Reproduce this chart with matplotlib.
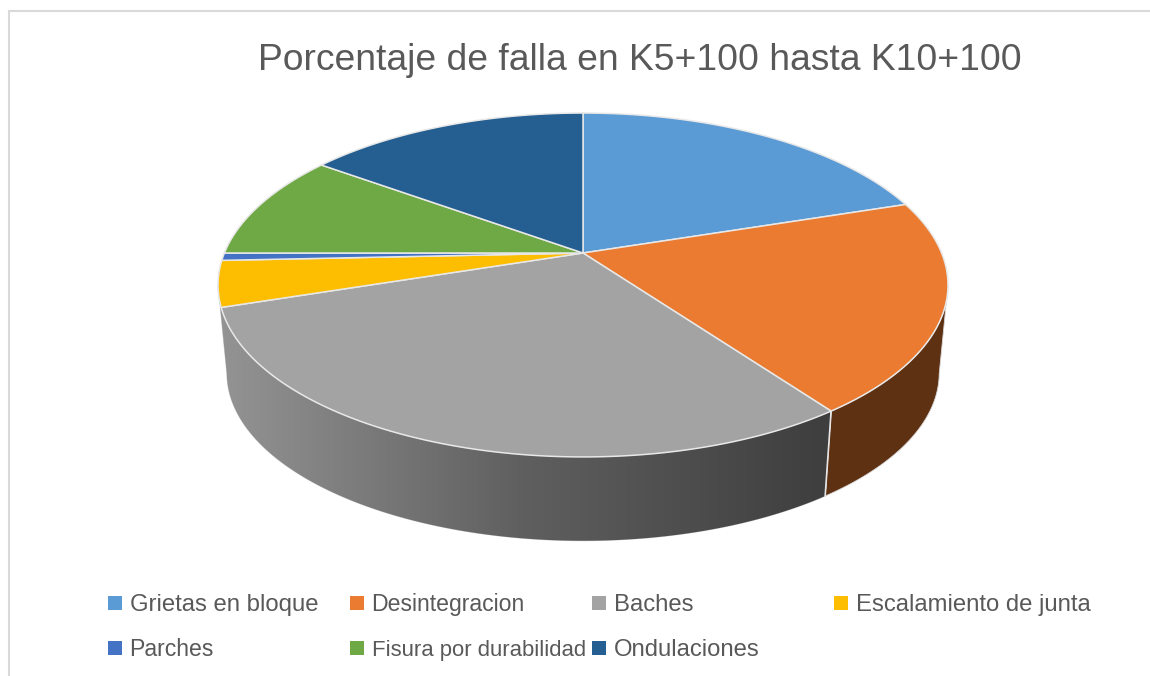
# Porcentaje de falla, pastel 3D dibujado a mano (matplotlib no tiene perspectiva para pie)
import numpy as np
import matplotlib
matplotlib.use("Agg")
import matplotlib.pyplot as plt
from matplotlib.colors import LinearSegmentedColormap
from matplotlib.patches import Polygon, Rectangle

title = "Porcentaje de falla en K5+100 hasta K10+100"
labels = [
    "Grietas en bloque",
    "Desintegracion",
    "Baches",
    "Escalamiento de junta",
    "Parches",
    "Fisura por durabilidad",
    "Ondulaciones",
]
values = [20, 20, 30, 4.3, 0.7, 10, 15]
colors = ["#5b9bd5", "#ea7b30", "#a3a3a3", "#fdbd00", "#4472c4", "#6fa945", "#255e91"]
legend_sizes = [17.2, 16.6, 17.2, 17.2, 16.6, 15.9, 17.2]

plt.rcParams["font.family"] = ["Liberation Sans", "DejaVu Sans"]

# perspective of the pie top, in image pixels
APEX_X, APEX_Y = 583, 253
K = 0.186
A = 166
B = 358.6
# bottom rim = top rim scaled around the ellipse centre and pushed down
ELL_Y = 285
DEPTH_Y = 88
SCALE = 0.976
# where the rim is widest, the wall starts and stops there
WALL_RIGHT = 101
WALL_LEFT = 259


def project(clock_deg):
    t = np.radians(clock_deg)
    u, v = np.sin(t), np.cos(t)
    w = 1 + K * v
    return APEX_X + B * u / w, APEX_Y - A * v / w


def project_low(clock_deg):
    x, y = project(clock_deg)
    return APEX_X + SCALE * (x - APEX_X), ELL_Y + DEPTH_Y + SCALE * (y - ELL_Y)


def wall_poly(start, stop):
    t = np.linspace(start, stop, 120)
    xt, yt = project(t)
    xb, yb = project_low(t)
    return np.column_stack([np.r_[xt, xb[::-1]], np.r_[yt, yb[::-1]]])


fig = plt.figure(figsize=(11.5, 6.76), dpi=100)
ax = fig.add_axes([0, 0, 1, 1])
ax.set_xlim(0, 1150)
ax.set_ylim(676, 0)
ax.axis("off")

# chart frame, open to the right and the bottom
ax.plot([9, 9, 1150], [676, 10.5, 10.5], color="#d9d9d9", lw=1.5, solid_joinstyle="miter")

edges = np.r_[0, np.cumsum(values)] / np.sum(values) * 360

# walls: orange is flat dark brown, grey runs light to dark
brown = Polygon(wall_poly(WALL_RIGHT, edges[2]), closed=True, fc="#5f3113", ec="#d8d8d8", lw=0.6)
ax.add_patch(brown)
grey_map = LinearSegmentedColormap.from_list("wall", ["#949494", "#5f5f5f", "#3e3e3e"])
grey = Polygon(wall_poly(edges[2], WALL_LEFT), closed=True, fc="none", ec="#d8d8d8", lw=0.6)
ax.add_patch(grey)
img = ax.imshow(
    np.linspace(0, 1, 256)[None, :],
    cmap=grey_map,
    extent=(218, 830, 545, 280),
    aspect="auto",
    zorder=1,
)
img.set_clip_path(grey)
ax.set_xlim(0, 1150)
ax.set_ylim(676, 0)
xe, ye = project(edges[2])
xl, yl = project_low(edges[2])
ax.plot([xe, xl], [ye, yl], color="#e6e6e6", lw=1.2, zorder=2)

# top face
for start, stop, color in zip(edges[:-1], edges[1:], colors):
    t = np.linspace(start, stop, max(int(stop - start) * 2, 4))
    x, y = project(t)
    pts = np.column_stack([np.r_[APEX_X, x], np.r_[APEX_Y, y]])
    ax.add_patch(Polygon(pts, closed=True, fc=color, ec="#e8e8e8", lw=1.1, zorder=3))

ax.text(258, 70, title, fontsize=26.85, color="#595959", ha="left", va="baseline")

# legend, two rows on a fixed 242 px grid
for i, (label, color, size) in enumerate(zip(labels, colors, legend_sizes)):
    col, row = i % 4, i // 4
    x0 = 108 + 242 * col
    y0 = 603 + 45 * row
    ax.add_patch(Rectangle((x0, y0 - 7), 14, 14, fc=color, ec="none"))
    ax.text(x0 + 21.5, y0 + 7.7, label, fontsize=size, color="#595959", ha="left", va="baseline")

fig.savefig("out.png", dpi=100)
